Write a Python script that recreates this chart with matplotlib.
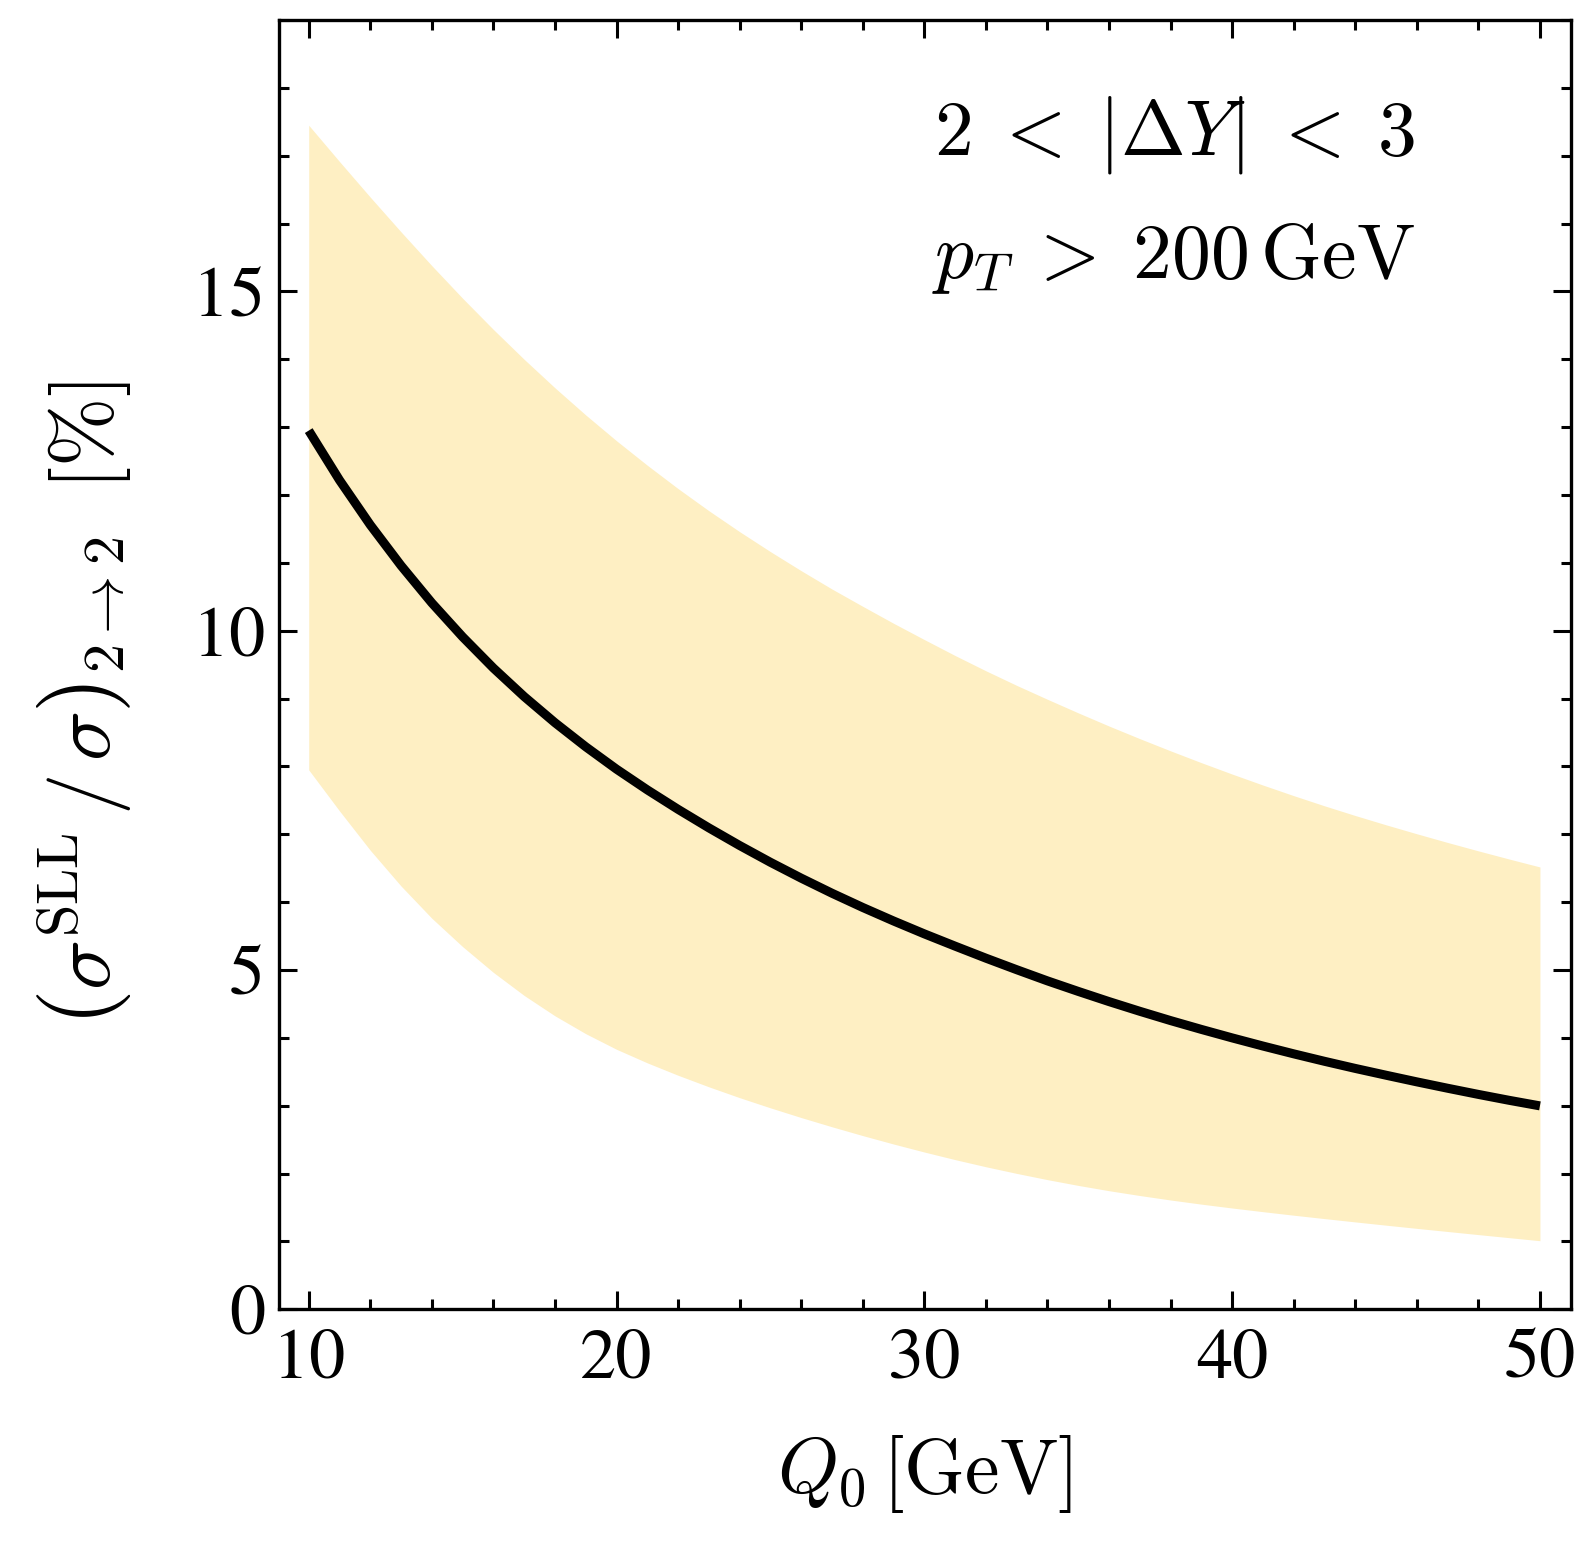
import numpy as np
import matplotlib.pyplot as plt
from matplotlib.ticker import MultipleLocator

plt.rcParams['font.family'] = 'STIXGeneral'
plt.rcParams['mathtext.fontset'] = 'cm'

# Q0 grid [GeV]
q0 = list(range(10, 51))
# central value of the SLL ratio [%]
central = [12.95, 12.22, 11.56, 10.96, 10.41, 9.91, 9.45, 9.03, 8.645, 8.29,
           7.96, 7.655, 7.368, 7.095, 6.835, 6.588, 6.354, 6.132, 5.922, 5.723,
           5.533, 5.352, 5.175, 5.005, 4.84, 4.685, 4.535, 4.392, 4.255, 4.125,
           4.00, 3.88, 3.765, 3.655, 3.55, 3.45, 3.352, 3.258, 3.167, 3.08,
           2.998]
# scale variation band
band_hi = [17.45, 16.915, 16.39, 15.878, 15.38, 14.90, 14.44, 14.00, 13.58, 13.18,
           12.80, 12.439, 12.095, 11.769, 11.46, 11.166, 10.885, 10.615, 10.36, 10.11,
           9.87, 9.635, 9.41, 9.195, 8.99, 8.79, 8.596, 8.41, 8.23, 8.056,
           7.888, 7.726, 7.57, 7.42, 7.277, 7.14, 7.008, 6.88, 6.756, 6.636,
           6.519]
band_lo = [7.95, 7.345, 6.765, 6.238, 5.763, 5.345, 4.965, 4.625, 4.325, 4.062,
           3.832, 3.632, 3.449, 3.279, 3.119, 2.969, 2.826, 2.69, 2.56, 2.436,
           2.318, 2.206, 2.101, 2.003, 1.911, 1.826, 1.748, 1.677, 1.611, 1.55,
           1.493, 1.439, 1.387, 1.337, 1.288, 1.24, 1.193, 1.147, 1.101, 1.056,
           1.011]

fig = plt.figure(figsize=(15.89, 15.44), dpi=100)
ax = fig.add_axes([0.1755, 0.152, 0.813, 0.835])

ax.fill_between(q0, band_lo, band_hi, color='#FEEFC3', lw=0)
ax.plot(q0, central, color='black', lw=6.5, solid_capstyle='butt', solid_joinstyle='round')

ax.set_xlim(9.03, 51.0)
ax.set_ylim(0, 19.0)

ax.xaxis.set_major_locator(MultipleLocator(10))
ax.xaxis.set_minor_locator(MultipleLocator(2))
ax.yaxis.set_major_locator(MultipleLocator(5))
ax.yaxis.set_minor_locator(MultipleLocator(1))
ax.tick_params(which='both', direction='in', top=True, right=True, width=2.2, labelsize=52)
ax.tick_params(which='major', length=13)
ax.tick_params(which='minor', length=7.5)
ax.tick_params(axis='x', pad=14)
ax.tick_params(axis='y', pad=10)
for s in ax.spines.values():
    s.set_linewidth(2.4)

ax.set_xlabel(r'$Q_0\,[\mathrm{GeV}]$', fontsize=56, labelpad=28)
ax.set_ylabel(r'$\left(\sigma^{\mathrm{SLL}}\,/\,\sigma\right)_{2\to2}\;\;[\%]$', fontsize=60)
ax.yaxis.set_label_coords(-0.113, 0.47)

ax.text(0.879, 0.911, r'$2\;<\;|\Delta Y|\;<\;3$', transform=ax.transAxes,
        ha='right', va='center', fontsize=56)
ax.text(0.879, 0.815, r'$p_T\:>\;200\,\mathrm{GeV}$', transform=ax.transAxes,
        ha='right', va='center', fontsize=56)

fig.savefig('out.png', dpi=100)
